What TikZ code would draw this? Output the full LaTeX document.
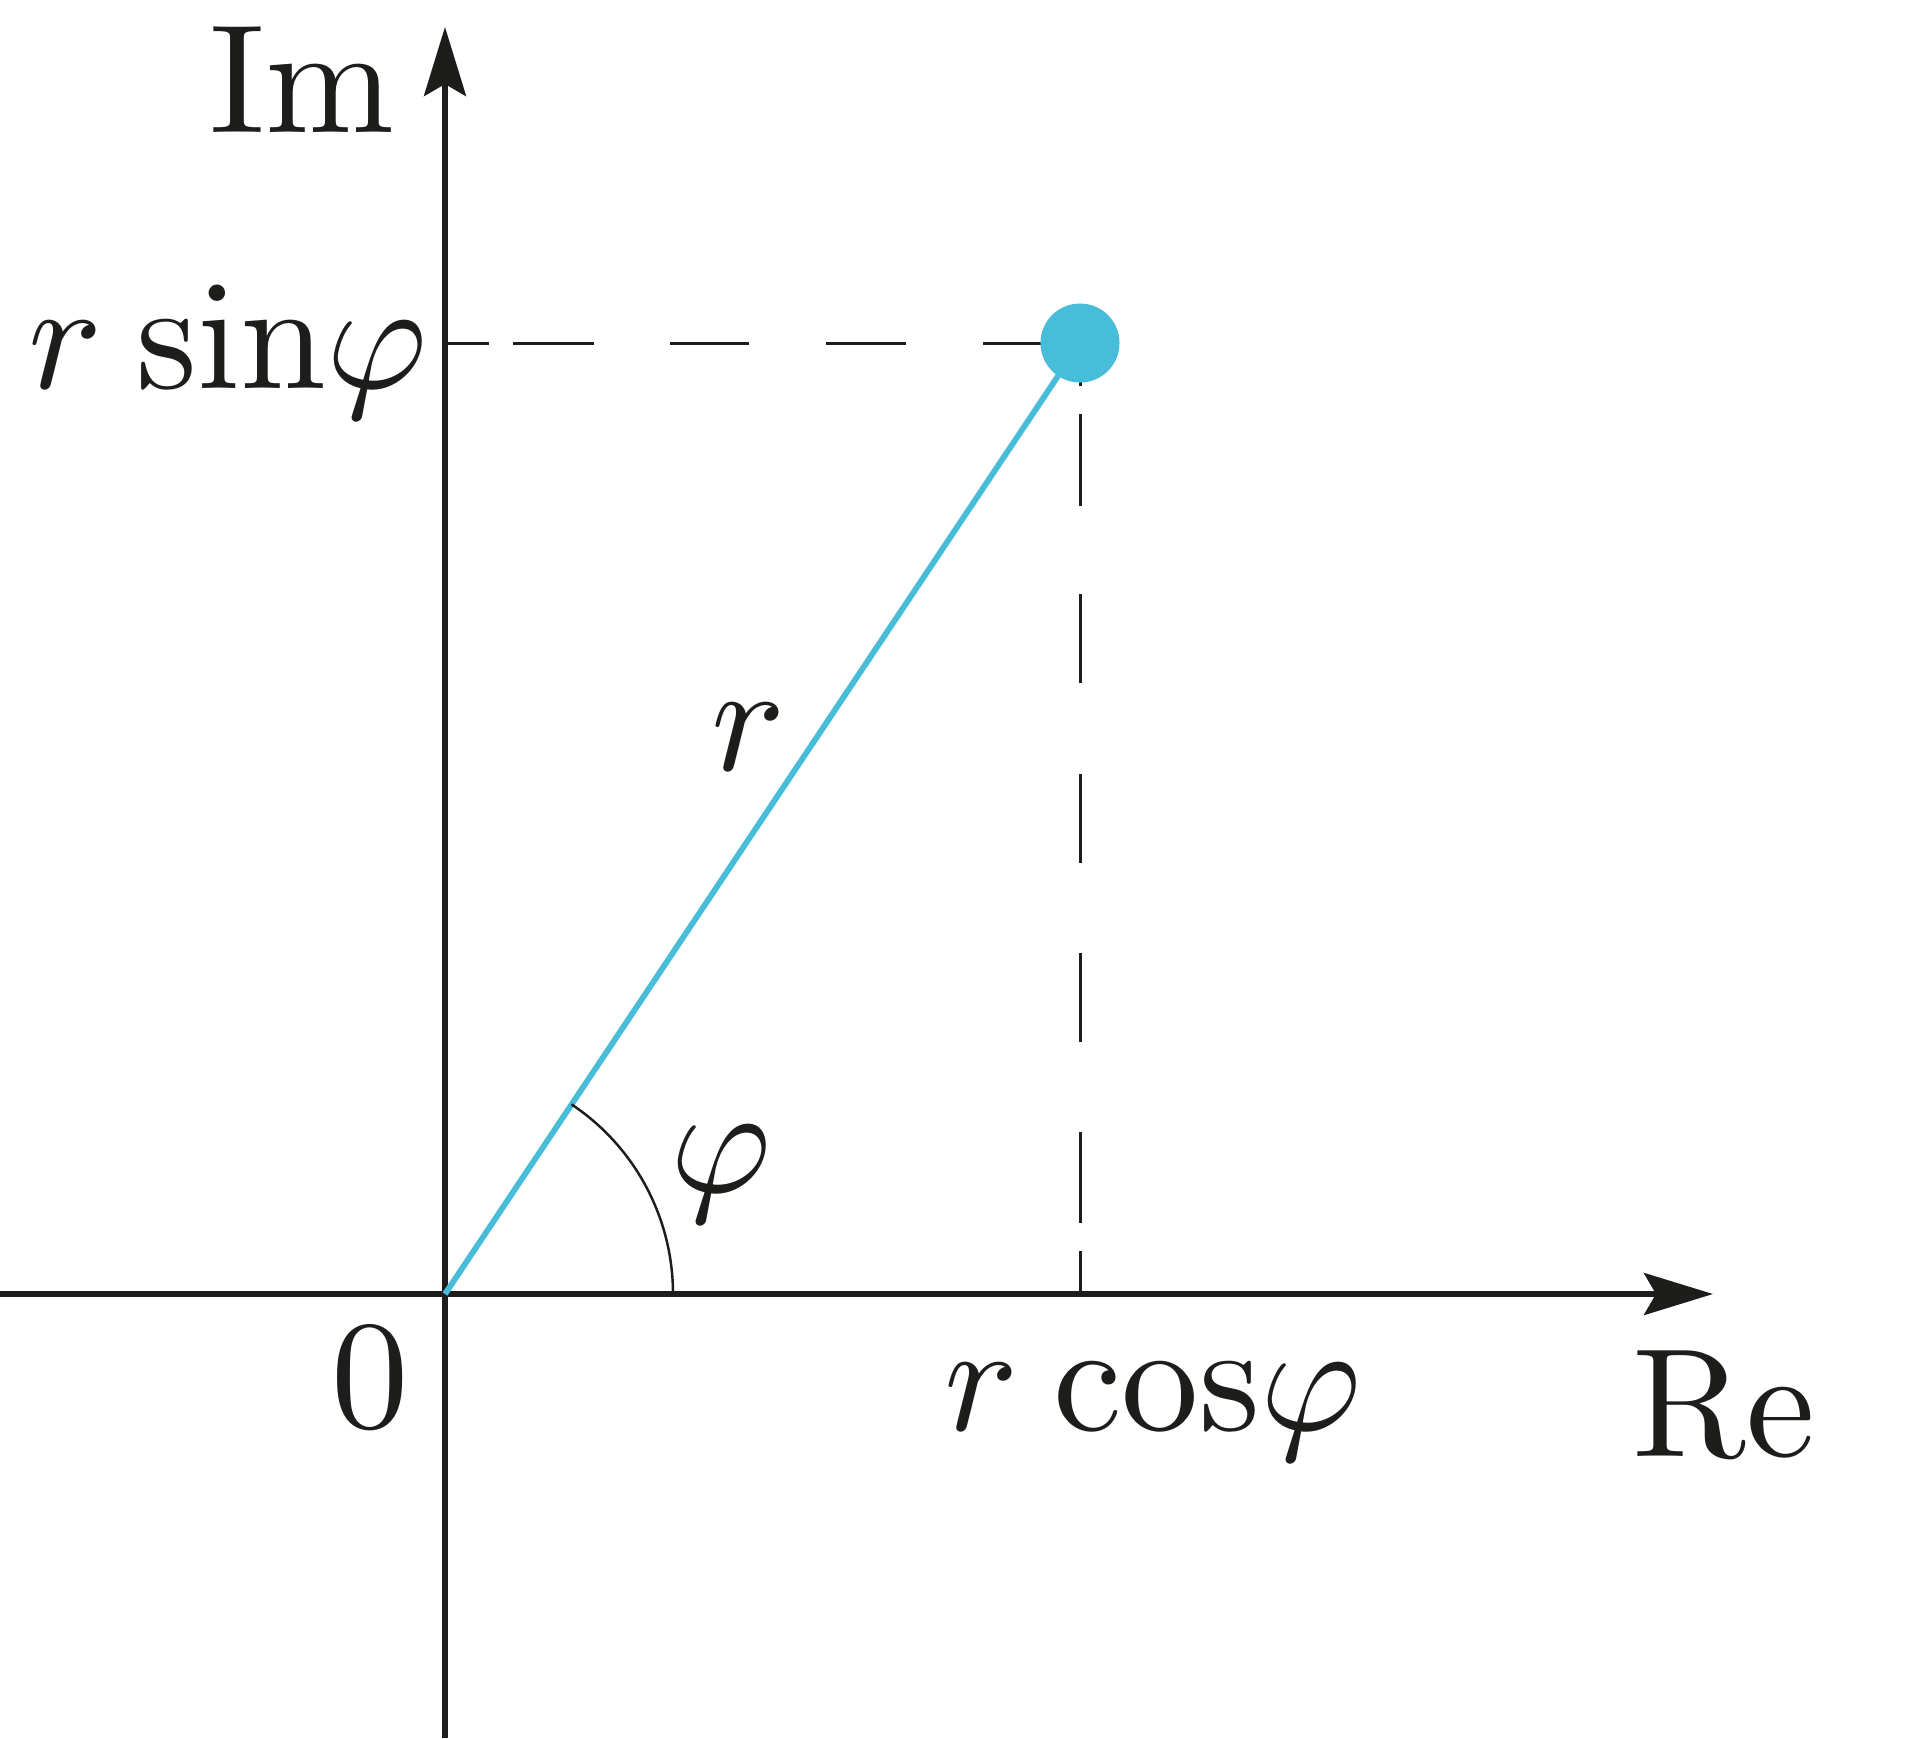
\documentclass[tikz,border=0pt]{standalone}
\usetikzlibrary{arrows.meta}
\definecolor{cblue}{HTML}{48BDDA}
\definecolor{ink}{HTML}{1D1D1B}
\tikzset{
  axis/.style={draw=ink, line width=1.45pt, -{Stealth[length=0.69cm,width=0.42cm,inset=0.12cm]}},
  guide/.style={draw=ink, line width=0.85pt},
  radius line/.style={draw=cblue, line width=1.65pt},
  anglearc/.style={draw=ink, line width=0.7pt},
  lbl/.style={text=ink, inner sep=0pt, anchor=base, scale=4.4, transform shape, font=\fontsize{10}{12}\selectfont},
  pt/.style={circle, fill=cblue, minimum size=0.79cm, inner sep=0pt}
}
\begin{document}
\begin{tikzpicture}[x=0.01cm, y=-0.01cm]
\useasboundingbox (0,0) rectangle (1920,1738);
\coordinate (O) at (445,1294);
\coordinate (xL) at (0,1294);
\coordinate (xR) at (1713,1294);
\coordinate (yB) at (445,1738);
\coordinate (yT) at (445,27);
\coordinate (Py) at (445,343);
\coordinate (Px) at (1080,1294);
\coordinate (Pc) at (1080,343);
% axes
\draw[axis] (xL) -- (xR);
\draw[axis] (yB) -- (yT);
% dashed guides
\draw[guide, dash pattern=on 0.44cm off 0.24cm on 0.81cm off 0.76cm on 0.79cm off 0.77cm on 0.80cm off 0.77cm on 3cm off 1cm] (Py) -- (Pc);
\draw[guide, dash pattern=on 0.43cm off 0.28cm on 0.91cm off 0.90cm on 0.89cm off 0.90cm on 0.89cm off 0.91cm on 0.89cm off 0.88cm on 0.92cm off 0.27cm on 1cm off 1cm] (Px) -- (Pc);
% radius
\draw[radius line] (O) -- (Pc);
% angle arc
\draw[anglearc] ([shift={(228,0)}]O) arc[start angle=0, end angle=-56.3, radius=228];
% point
\node[pt] (P) at (Pc) {};
% labels
\node[lbl] (im) at (302,132) {Im};
\node[lbl, anchor=base east] (rs) at (431,388) {$r\:\mathrm{sin}\varphi$};
\node[lbl] (rl) at (749,770) {$r$};
\node[lbl] (phi) at (721,1192) {$\varphi$};
\node[lbl] (zero) at (370,1427) {$0$};
\node[lbl] (rc) at (1153,1430) {$r\:\mathrm{cos}\varphi$};
\node[lbl] (re) at (1724,1456) {Re};
\end{tikzpicture}
\end{document}
